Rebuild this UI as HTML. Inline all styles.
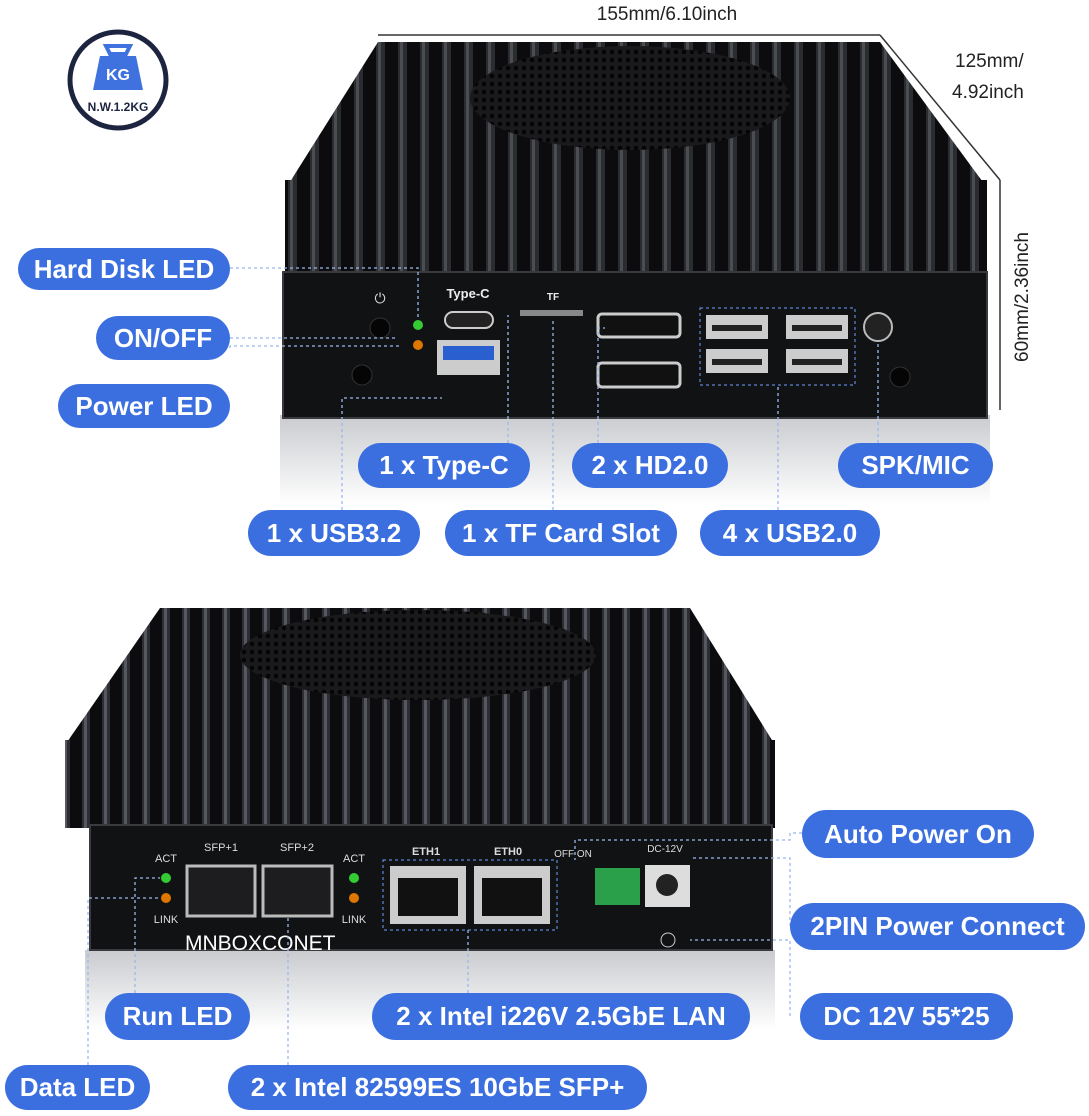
<!DOCTYPE html>
<html><head><meta charset="utf-8"><style>
html,body{margin:0;padding:0;background:#fff;}
body{width:1089px;height:1116px;position:relative;overflow:hidden;font-family:"Liberation Sans",sans-serif;}
.p{position:absolute;background:#3b6fe0;color:#fff;font-weight:bold;font-size:26px;border-radius:24px;display:flex;align-items:center;justify-content:center;white-space:nowrap;box-sizing:border-box;}
</style></head><body>
<svg width="1089" height="1116" style="position:absolute;left:0;top:0">
<defs>
<pattern id="vf" width="22" height="10" patternUnits="userSpaceOnUse">
<rect width="22" height="10" fill="#0c0c0e"/><rect x="2" width="9" height="10" fill="#2a2c30"/><rect x="4" width="3" height="10" fill="#4a4d52"/>
</pattern>
<pattern id="vf2" width="20" height="10" patternUnits="userSpaceOnUse">
<rect width="20" height="10" fill="#0c0c0e"/><rect x="2" width="8" height="10" fill="#2c2e33"/><rect x="4" width="3" height="10" fill="#55585e"/>
</pattern>
<pattern id="dots" width="8" height="8" patternUnits="userSpaceOnUse"><rect width="8" height="8" fill="#1a1a1c"/><circle cx="4" cy="4" r="2.3" fill="#050505"/></pattern>
<linearGradient id="refl" x1="0" x2="0" y1="0" y2="1"><stop offset="0" stop-color="#c9cbcf"/><stop offset="1" stop-color="#fff"/></linearGradient>
</defs>
<line x1="378" y1="35" x2="880" y2="35" stroke="#333" stroke-width="1.5"/>
<line x1="880" y1="35" x2="1000" y2="180" stroke="#333" stroke-width="1.5"/>
<line x1="1000" y1="180" x2="1000" y2="410" stroke="#333" stroke-width="1.5"/>
<text x="667" y="20" text-anchor="middle" font-size="19" fill="#222">155mm/6.10inch</text>
<text x="955" y="67" font-size="19" fill="#222">125mm/</text>
<text x="952" y="98" font-size="19" fill="#222">4.92inch</text>
<text transform="translate(1028,297) rotate(-90)" text-anchor="middle" font-size="19" fill="#222">60mm/2.36inch</text>
<circle cx="118" cy="80" r="48" fill="#fff" stroke="#1d2440" stroke-width="5"/>
<path d="M106 46 h24 l-4 8 h-16z" fill="none" stroke="#3f72de" stroke-width="4"/>
<path d="M100 56 h36 l7 34 h-50z" fill="#3f72de"/>
<text x="118" y="80" text-anchor="middle" font-size="16" font-weight="bold" fill="#fff">KG</text>
<text x="118" y="111" text-anchor="middle" font-size="12" font-weight="bold" fill="#1d2440">N.W.1.2KG</text>

<rect x="280" y="415" width="710" height="90" fill="url(#refl)"/>
<polygon points="378,42 880,42 985,185 288,185" fill="url(#vf)"/>
<ellipse cx="630" cy="98" rx="160" ry="52" fill="url(#dots)"/>
<rect x="285" y="180" width="702" height="95" fill="url(#vf)"/>
<rect x="283" y="272" width="704" height="146" fill="#111214" stroke="#3a3a3e" stroke-width="2"/>
<circle cx="380" cy="328" r="10" fill="#050505" stroke="#333"/>
<circle cx="362" cy="375" r="10" fill="#050505" stroke="#333"/>
<circle cx="900" cy="377" r="10" fill="#050505" stroke="#333"/>
<circle cx="418" cy="325" r="5" fill="#3c3"/><circle cx="418" cy="345" r="5" fill="#d70"/>
<text x="380" y="303" font-size="14" fill="#ddd" text-anchor="middle">⏻</text>
<text x="468" y="298" font-size="13" font-weight="bold" fill="#eee" text-anchor="middle">Type-C</text>
<rect x="445" y="312" width="48" height="16" rx="8" fill="#222" stroke="#ccc" stroke-width="2"/>
<rect x="437" y="340" width="63" height="35" fill="#ccc"/><rect x="443" y="346" width="51" height="14" fill="#2a5fd0"/>
<text x="553" y="300" font-size="10" font-weight="bold" fill="#eee" text-anchor="middle">TF</text>
<rect x="520" y="310" width="63" height="6" fill="#888"/>
<rect x="598" y="314" width="82" height="23" rx="4" fill="#111" stroke="#ccc" stroke-width="3"/>
<rect x="598" y="363" width="82" height="24" rx="4" fill="#111" stroke="#ccc" stroke-width="3"/>
<rect x="706" y="315" width="62" height="24" fill="#ccc"/><rect x="786" y="315" width="62" height="24" fill="#ccc"/>
<rect x="706" y="349" width="62" height="24" fill="#ccc"/><rect x="786" y="349" width="62" height="24" fill="#ccc"/>
<rect x="712" y="325" width="50" height="6" fill="#222"/><rect x="792" y="325" width="50" height="6" fill="#222"/>
<rect x="712" y="359" width="50" height="6" fill="#222"/><rect x="792" y="359" width="50" height="6" fill="#222"/>
<rect x="700" y="308" width="155" height="77" fill="none" stroke="#6fa0ff" stroke-dasharray="3,3"/>
<circle cx="878" cy="327" r="14" fill="#222" stroke="#bbb" stroke-width="2"/>
<g stroke="#9bb8ee" stroke-dasharray="3,3" fill="none" stroke-width="1.3">
<path d="M230 268 H418 V318"/><path d="M230 338 H395"/><path d="M230 348 V346 H400"/>
<path d="M342 510 V398 H442"/><path d="M508 443 V315"/><path d="M553 510 V318"/>
<path d="M598 443 V328 H605"/><path d="M778 510 V385"/><path d="M878 443 V341"/>
</g>

<rect x="85" y="950" width="690" height="80" fill="url(#refl)"/>
<polygon points="160,608 690,608 775,745 65,745" fill="url(#vf2)"/>
<ellipse cx="418" cy="655" rx="178" ry="45" fill="url(#dots)"/>
<rect x="65" y="740" width="710" height="88" fill="url(#vf2)"/>
<rect x="90" y="825" width="682" height="125" fill="#111214" stroke="#3a3a3e" stroke-width="2"/>
<text x="166" y="862" font-size="11" fill="#ddd" text-anchor="middle">ACT</text>
<text x="166" y="923" font-size="11" fill="#ddd" text-anchor="middle">LINK</text>
<text x="354" y="862" font-size="11" fill="#ddd" text-anchor="middle">ACT</text>
<text x="354" y="923" font-size="11" fill="#ddd" text-anchor="middle">LINK</text>
<circle cx="166" cy="878" r="5" fill="#3c3"/><circle cx="166" cy="898" r="5" fill="#d70"/>
<circle cx="354" cy="878" r="5" fill="#3c3"/><circle cx="354" cy="898" r="5" fill="#d70"/>
<text x="221" y="851" font-size="11" fill="#ddd" text-anchor="middle">SFP+1</text>
<text x="297" y="851" font-size="11" fill="#ddd" text-anchor="middle">SFP+2</text>
<rect x="187" y="866" width="68" height="50" fill="#1d1d1f" stroke="#bbb" stroke-width="3"/>
<rect x="263" y="866" width="69" height="50" fill="#1d1d1f" stroke="#bbb" stroke-width="3"/>
<text x="185" y="950" font-size="21" fill="#fff">MNBOXCONET</text>
<text x="426" y="855" font-size="11" font-weight="bold" fill="#ddd" text-anchor="middle">ETH1</text>
<text x="508" y="855" font-size="11" font-weight="bold" fill="#ddd" text-anchor="middle">ETH0</text>
<rect x="390" y="866" width="76" height="58" fill="#ccc"/><rect x="474" y="866" width="76" height="58" fill="#ccc"/>
<rect x="398" y="878" width="60" height="38" fill="#111"/><rect x="482" y="878" width="60" height="38" fill="#111"/>
<rect x="383" y="860" width="174" height="70" fill="none" stroke="#6fa0ff" stroke-dasharray="3,3"/>
<text x="573" y="857" font-size="10" fill="#ddd" text-anchor="middle">OFF ON</text>
<text x="665" y="852" font-size="10" fill="#ddd" text-anchor="middle">DC-12V</text>
<rect x="595" y="868" width="45" height="37" fill="#2aa04a"/>
<rect x="645" y="865" width="45" height="42" fill="#ddd"/><circle cx="667" cy="885" r="11" fill="#222"/>
<circle cx="668" cy="940" r="7" fill="none" stroke="#ccc"/>
<g stroke="#9bb8ee" stroke-dasharray="3,3" fill="none" stroke-width="1.3">
<path d="M802 833 H790 V840 H575 V860"/><path d="M790 926 V858 H690"/><path d="M790 1016 V940 H690"/>
<path d="M135 993 V878 H160"/><path d="M88 1065 V898 H160"/><path d="M288 1065 V916"/><path d="M468 993 V930"/>
</g>
</svg>
<div class="p" style="left:18px;top:248px;width:212px;height:42px">Hard Disk LED</div>
<div class="p" style="left:96px;top:316px;width:134px;height:44px">ON/OFF</div>
<div class="p" style="left:58px;top:384px;width:172px;height:44px">Power LED</div>
<div class="p" style="left:358px;top:443px;width:172px;height:45px">1 x Type-C</div>
<div class="p" style="left:572px;top:443px;width:156px;height:45px">2 x HD2.0</div>
<div class="p" style="left:838px;top:443px;width:155px;height:45px">SPK/MIC</div>
<div class="p" style="left:248px;top:510px;width:172px;height:46px">1 x USB3.2</div>
<div class="p" style="left:445px;top:510px;width:232px;height:46px">1 x TF Card Slot</div>
<div class="p" style="left:700px;top:510px;width:180px;height:46px">4 x USB2.0</div>
<div class="p" style="left:802px;top:810px;width:232px;height:48px">Auto Power On</div>
<div class="p" style="left:790px;top:903px;width:295px;height:47px">2PIN Power Connect</div>
<div class="p" style="left:800px;top:993px;width:213px;height:47px">DC 12V 55*25</div>
<div class="p" style="left:105px;top:993px;width:145px;height:47px">Run LED</div>
<div class="p" style="left:372px;top:993px;width:378px;height:47px">2 x Intel i226V 2.5GbE LAN</div>
<div class="p" style="left:5px;top:1065px;width:145px;height:45px">Data LED</div>
<div class="p" style="left:228px;top:1065px;width:419px;height:45px">2 x Intel 82599ES 10GbE SFP+</div>
</body></html>
